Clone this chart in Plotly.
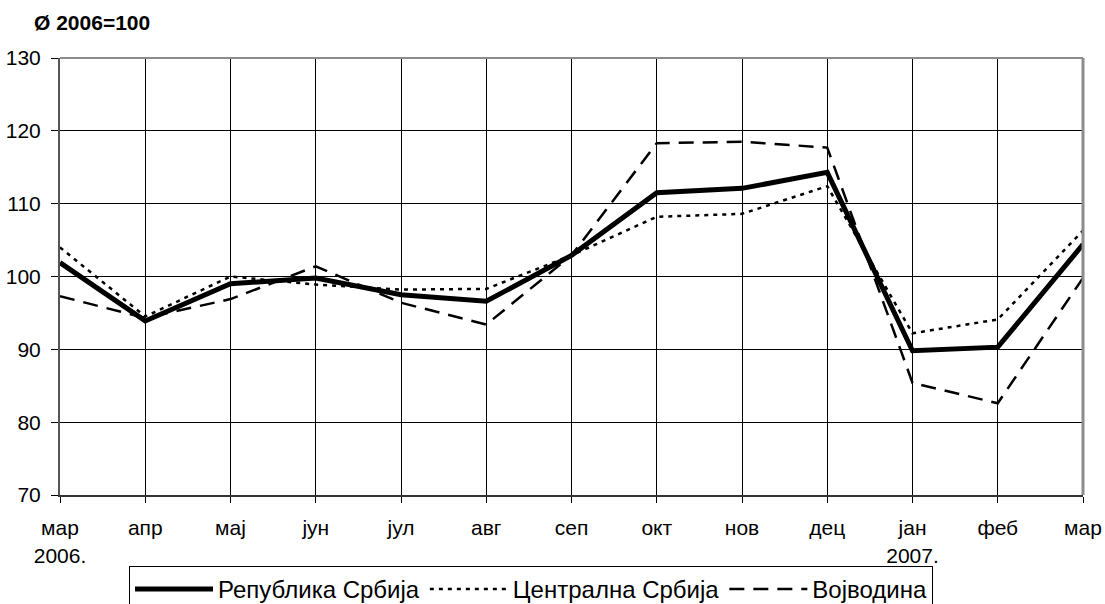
import plotly.graph_objects as go

months = ["мар<br>2006.", "апр", "мај", "јун", "јул", "авг", "сеп", "окт", "нов", "дец", "јан<br>2007.", "феб", "мар"]
x_pos = list(range(len(months)))

rep_srbija = [101.9, 93.9, 99.0, 99.8, 97.5, 96.6, 102.9, 111.5, 112.1, 114.3, 89.8, 90.3, 104.4]
centralna = [104.0, 94.5, 100.0, 98.9, 98.2, 98.3, 102.9, 108.2, 108.6, 112.4, 92.2, 94.1, 106.3]
vojvodina = [97.3, 94.3, 96.9, 101.4, 96.4, 93.4, 102.9, 118.3, 118.5, 117.7, 85.4, 82.6, 99.8]

y_ticks = [70, 80, 90, 100, 110, 120, 130]

FONT = "Liberation Sans, Arial, sans-serif"
FS = 21

fig = go.Figure()
fig.add_trace(go.Scatter(x=x_pos, y=rep_srbija, mode="lines", name="Република Србија",
                         line=dict(color="black", width=5)))
fig.add_trace(go.Scatter(x=x_pos, y=centralna, mode="lines", name="Централна Србија",
                         line=dict(color="black", width=2.5, dash="4px,5px")))
fig.add_trace(go.Scatter(x=x_pos, y=vojvodina, mode="lines", name="Војводина",
                         line=dict(color="black", width=2.5, dash="15px,9px")))

fig.update_layout(
    template="none",
    width=1105, height=604,
    margin=dict(l=60, r=22, t=58, b=109, autoexpand=False),
    paper_bgcolor="white", plot_bgcolor="white",
    font=dict(family=FONT, size=FS, color="black"),
    showlegend=True,
    legend=dict(orientation="h", x=129 / 1105, y=(604 - 566) / 604, xref="container", yref="container",
                xanchor="left", yanchor="top",
                bordercolor="black", borderwidth=1, bgcolor="rgba(255,255,255,0)",
                font=dict(size=24, color="black"),
                itemwidth=78, tracegroupgap=0, traceorder="normal"),
    annotations=[dict(text="<b>Ø 2006=100</b>", xref="paper", yref="paper",
                      x=-0.0274, y=1.0, yshift=36, xanchor="left", yanchor="middle",
                      showarrow=False, font=dict(size=FS, color="black", family=FONT))],
)

fig.update_xaxes(
    range=[0, 12], tickmode="array", tickvals=x_pos, ticktext=months,
    showgrid=True, gridcolor="black", gridwidth=1,
    showline=True, linecolor="#333333", linewidth=2,
    ticks="outside", ticklen=6, tickcolor="black", tickwidth=1,
    ticklabelstandoff=7, automargin=False,
    zeroline=False, mirror=False,
    tickfont=dict(size=FS, color="black"),
)
fig.update_yaxes(
    range=[70, 130], tickmode="array", tickvals=y_ticks,
    showgrid=True, gridcolor="black", gridwidth=1,
    showline=True, linecolor="#555555", linewidth=2,
    ticks="outside", ticklen=7, tickcolor="black", tickwidth=1,
    ticklabelstandoff=6, automargin=False,
    zeroline=False,
    tickfont=dict(size=FS, color="black"),
)

# gray plot-area border on top and right
fig.add_shape(type="line", xref="paper", yref="paper", x0=0, x1=1, y0=1, y1=1,
              line=dict(color="#8c8c8c", width=2))
fig.add_shape(type="line", xref="paper", yref="paper", x0=1, x1=1, y0=0, y1=1,
              line=dict(color="#8c8c8c", width=3))

fig.write_html("out.html", config={"displayModeBar": False},
               post_script="document.body.style.margin='0';document.body.style.overflow='hidden';")
